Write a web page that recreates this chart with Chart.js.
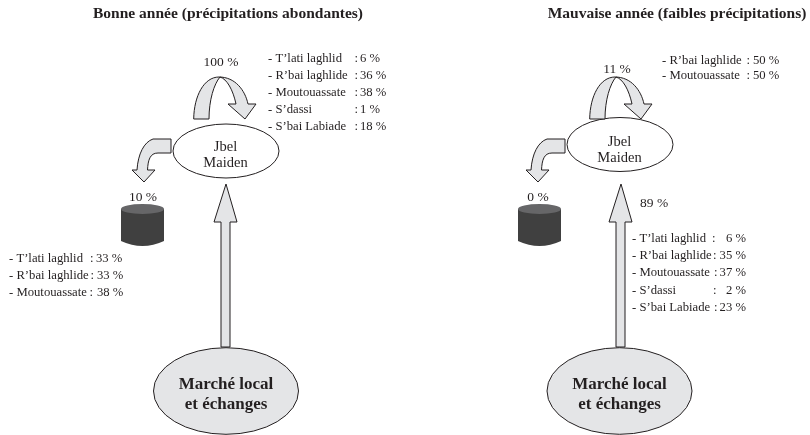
<!DOCTYPE html>
<html>
<head>
<meta charset="utf-8">
<style>
  html, body { margin: 0; padding: 0; background: #fff; }
  canvas { display: block; }
</style>
<script src="https://cdn.jsdelivr.net/npm/chart.js@4/dist/chart.umd.min.js"></script>
</head>
<body>
<canvas id="chart" width="810" height="435"></canvas>
<script>
// values
var titles = ['Bonne année (précipitations abondantes)', 'Mauvaise année (faibles précipitations)'];
var nodeLabels = ['Jbel', 'Maiden'];
var marketLabels = ['Marché local', 'et échanges'];
var reuseShares = ['100 %', '11 %'];
var stockShares = ['10 %', '0 %'];
var arrivalShare = '89 %';

var goodReuseNames = ['- T’lati laghlid', '- R’bai laghlide', '- Moutouassate', '- S’dassi', '- S’bai Labiade'];
var goodReuseValues = ['6 %', '36 %', '38 %', '1 %', '18 %'];
var goodStockNames = ['- T’lati laghlid', '- R’bai laghlide', '- Moutouassate'];
var goodStockValues = ['33 %', '33 %', '38 %'];
var badReuseNames = ['- R’bai laghlide', '- Moutouassate'];
var badReuseValues = ['50 %', '50 %'];
var badArrivalNames = ['- T’lati laghlid', '- R’bai laghlide', '- Moutouassate', '- S’dassi', '- S’bai Labiade'];
var badArrivalValues = ['6 %', '35 %', '37 %', '2 %', '23 %'];

var INK = '#231f20', PALE = '#e4e5e7';
var SERIF = '"Liberation Serif", serif';

// where each panel of the diagram sits, in chart units
var panels = [
  { title: 228, node: [226, 151], loop: 0, bent: 0, drum: 0, up: 0, market: 226, nodeTextY: [147, 163] },
  { title: 677, node: [620, 144.5], loop: 396, bent: 394, drum: 397, up: 395, market: 619.5, nodeTextY: [142, 158] }
];

function text(ctx, s, x, y, font, align) {
  ctx.font = font;
  ctx.textAlign = align || 'left';
  ctx.textBaseline = 'middle';
  ctx.fillStyle = INK;
  ctx.fillText(s, x, y);
}

// name column, then colon, then value
function list(sx, sy, ctx, names, values, x, ys, colonX, valueX, rightAlign) {
  names.forEach(function (name, i) {
    var cx = Array.isArray(colonX) ? colonX[i] : colonX;
    var vx = Array.isArray(valueX) ? valueX[i] : valueX;
    text(ctx, name, sx(x), sy(ys[i]), '12.7px ' + SERIF);
    text(ctx, ':', sx(cx), sy(ys[i]), '12.7px ' + SERIF);
    text(ctx, values[i], sx(vx), sy(ys[i]), '12.7px ' + SERIF, rightAlign ? 'right' : 'left');
  });
}

function shape(ctx, fill, stroke, width) {
  ctx.fillStyle = fill;
  ctx.fill();
  ctx.strokeStyle = stroke;
  ctx.lineWidth = width;
  ctx.stroke();
}

function ellipse(ctx, sx, sy, cx, cy, rx, ry, fill, width) {
  ctx.beginPath();
  ctx.ellipse(sx(cx), sy(cy), rx, ry, 0, 0, Math.PI * 2);
  shape(ctx, fill, INK, width);
}

function loopArrow(ctx, sx, sy, d) {
  var X = function (v) { return sx(v + d); };
  ctx.beginPath();
  ctx.moveTo(X(193.7), sy(119));
  ctx.bezierCurveTo(X(194), sy(96), X(204), sy(77), X(219), sy(77));
  ctx.bezierCurveTo(X(235), sy(77), X(245), sy(90), X(248), sy(104));
  ctx.lineTo(X(256), sy(104));
  ctx.lineTo(X(245), sy(119));
  ctx.lineTo(X(228), sy(104));
  ctx.lineTo(X(236), sy(104));
  ctx.bezierCurveTo(X(233), sy(90), X(227), sy(79), X(220), sy(77));
  ctx.bezierCurveTo(X(214), sy(84), X(209), sy(100), X(209), sy(119));
  ctx.closePath();
  shape(ctx, PALE, INK, 1);
}

function bentArrow(ctx, sx, sy, d) {
  var X = function (v) { return sx(v + d); };
  ctx.beginPath();
  ctx.moveTo(X(171), sy(139));
  ctx.lineTo(X(153), sy(139));
  ctx.bezierCurveTo(X(144), sy(142), X(138), sy(154), X(137), sy(170));
  ctx.lineTo(X(132), sy(170));
  ctx.lineTo(X(144), sy(182));
  ctx.lineTo(X(155), sy(170));
  ctx.lineTo(X(147.5), sy(170));
  ctx.bezierCurveTo(X(148), sy(160), X(150), sy(153), X(158), sy(153));
  ctx.lineTo(X(171), sy(153));
  ctx.closePath();
  shape(ctx, PALE, INK, 1);
}

function upArrow(ctx, sx, sy, d) {
  var X = function (v) { return sx(v + d); };
  ctx.beginPath();
  ctx.moveTo(X(226), sy(184));
  ctx.lineTo(X(237), sy(222));
  ctx.lineTo(X(230), sy(222));
  ctx.lineTo(X(230), sy(347));
  ctx.lineTo(X(221), sy(347));
  ctx.lineTo(X(221), sy(222));
  ctx.lineTo(X(214), sy(222));
  ctx.closePath();
  shape(ctx, PALE, INK, 1);
}

function drum(ctx, sx, sy, d) {
  var l = sx(121 + d), r = sx(164 + d), mid = (l + r) / 2;
  ctx.beginPath();
  ctx.moveTo(l, sy(209));
  ctx.lineTo(l, sy(241));
  ctx.quadraticCurveTo(mid, sy(251), r, sy(241));
  ctx.lineTo(r, sy(209));
  ctx.closePath();
  ctx.fillStyle = '#404040';
  ctx.fill();
  ctx.beginPath();
  ctx.ellipse(mid, sy(209), (r - l) / 2, 5, 0, 0, Math.PI * 2);
  ctx.fillStyle = '#666668';
  ctx.fill();
}

var diagramPlugin = {
  id: 'diagram',
  afterDatasetsDraw: function (chart) {
    var ctx = chart.ctx;
    var sx = function (v) { return chart.scales.x.getPixelForValue(v); };
    var sy = function (v) { return chart.scales.y.getPixelForValue(v); };
    ctx.save();

    panels.forEach(function (p, i) {
      text(ctx, titles[i], sx(p.title), sy(14), 'bold 15.5px ' + SERIF, 'center');
      ellipse(ctx, sx, sy, p.node[0], p.node[1], 53, 27, '#fff', 1);
      loopArrow(ctx, sx, sy, p.loop);
      bentArrow(ctx, sx, sy, p.bent);
      upArrow(ctx, sx, sy, p.up);
      drum(ctx, sx, sy, p.drum);
      ellipse(ctx, sx, sy, p.market, 391, 72.5, 43.3, PALE, 1);
      text(ctx, nodeLabels[0], sx(p.node[0] - 0.5), sy(p.nodeTextY[0]), '14.5px ' + SERIF, 'center');
      text(ctx, nodeLabels[1], sx(p.node[0] - 0.5), sy(p.nodeTextY[1]), '14.5px ' + SERIF, 'center');
      text(ctx, marketLabels[0], sx(p.market), sy(385), 'bold 17px ' + SERIF, 'center');
      text(ctx, marketLabels[1], sx(p.market), sy(405), 'bold 17px ' + SERIF, 'center');
    });

    text(ctx, reuseShares[0], sx(221), sy(62), '13.5px ' + SERIF, 'center');
    text(ctx, reuseShares[1], sx(617), sy(69), '13.5px ' + SERIF, 'center');
    text(ctx, stockShares[0], sx(143), sy(197), '13.5px ' + SERIF, 'center');
    text(ctx, stockShares[1], sx(538), sy(197), '13.5px ' + SERIF, 'center');
    text(ctx, arrivalShare, sx(640), sy(203), '13.5px ' + SERIF);

    list(sx, sy, ctx, goodReuseNames, goodReuseValues, 268, [59, 76, 93, 110, 127], 354.5, 360);
    list(sx, sy, ctx, goodStockNames, goodStockValues, 9, [259, 276, 293], [90, 90.5, 89.5], [96, 97, 97]);
    list(sx, sy, ctx, badReuseNames, badReuseValues, 662, [61, 76], [746.5, 746.5], 753);
    list(sx, sy, ctx, badArrivalNames, badArrivalValues, 632, [239, 256, 273, 291, 308], [712, 713, 714, 713, 714], 746, true);

    ctx.restore();
  }
};

new Chart(document.getElementById('chart').getContext('2d'), {
  type: 'scatter',
  data: {
    datasets: [{
      label: 'nœuds',
      data: panels.map(function (p) { return { x: p.node[0], y: p.node[1] }; }),
      pointRadius: 0
    }]
  },
  options: {
    responsive: false,
    animation: false,
    layout: { padding: 0 },
    plugins: { legend: { display: false }, tooltip: { enabled: false } },
    scales: {
      x: { type: 'linear', min: 0, max: 810, display: false },
      y: { type: 'linear', min: 0, max: 435, reverse: true, display: false }
    }
  },
  plugins: [diagramPlugin]
});
</script>
</body>
</html>
